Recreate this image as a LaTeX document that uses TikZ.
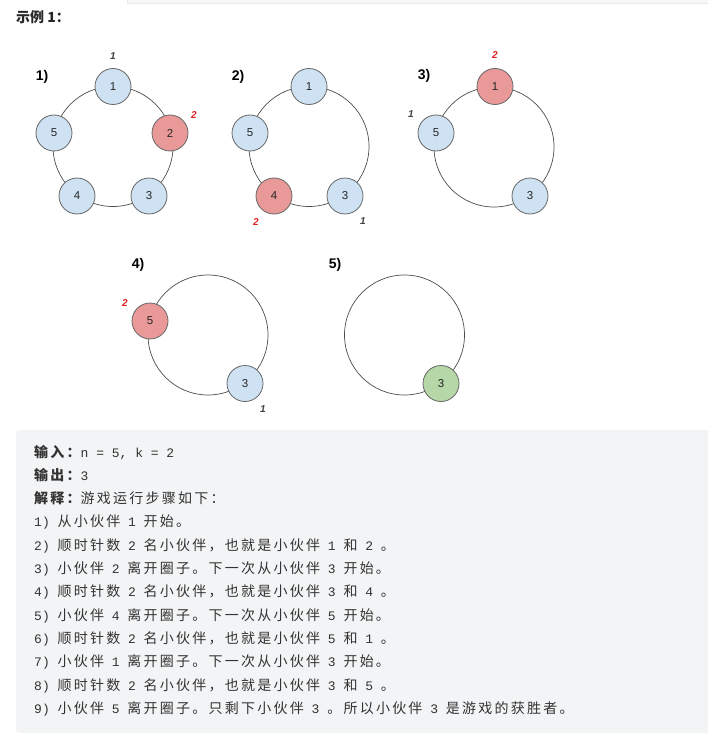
\documentclass[tikz,border=0pt]{standalone}
\usepackage{fontspec}
\setmainfont{Liberation Sans}
\newfontfamily\cjk{Noto Sans CJK SC}[LetterSpace=16]
\newfontfamily\cjktitle{Noto Sans CJK SC}
\newfontfamily\mono{Liberation Mono}
\newcommand\zhs[1]{{\cjk\fontsize{14}{14}\selectfont #1}}
\newcommand\zhb[1]{{\cjk\bfseries\fontsize{14}{14}\selectfont #1}}
\definecolor{nodeblue}{HTML}{CFE2F3}
\definecolor{nodered}{HTML}{EA9999}
\definecolor{nodegreen}{HTML}{B6D7A8}
\definecolor{edgegray}{HTML}{666666}
\definecolor{labred}{HTML}{E02020}
\definecolor{boxgray}{HTML}{F3F4F5}
\definecolor{txt}{HTML}{333333}
\begin{document}
\begin{tikzpicture}[x=1pt,y=-1pt,
  ring/.style={draw=black!70, line width=0.7pt},
  friend/.style={circle, draw=edgegray, line width=0.8pt, minimum size=36pt, inner sep=0pt,
    font=\fontsize{11.5}{11.5}\selectfont, text=black!85},
  fb/.style={friend, fill=nodeblue},
  fr/.style={friend, fill=nodered},
  fg/.style={friend, fill=nodegreen},
  steptitle/.style={font=\fontsize{14}{14}\selectfont\bfseries, text=black},
  cnt/.style={font=\fontsize{10}{10}\selectfont\bfseries\itshape, text=black!75},
  cntred/.style={font=\fontsize{10}{10}\selectfont\bfseries\itshape, text=labred},
  line/.style={anchor=base west, inner sep=0pt, text=txt, font=\mono\fontsize{13}{13}\selectfont}
]
\useasboundingbox (0,0) rectangle (707,738);
% top bar
\draw[draw=black!8, fill=black!3] (127,-2) rectangle (712,3.5);
% title
\node[anchor=west, inner sep=0pt, font=\cjktitle\bfseries\fontsize{14}{14}\selectfont, text=black!85] (title) at (16,17) {示例 1：};

% ---- diagram 1
\node[steptitle] (t1) at (42,77) {1)};
\draw[ring] (113,146.5) circle[radius=60pt];
\node[fb] (a1) at (113,86.5) {1};
\node[fr] (a2) at (170,133) {2};
\node[fb] (a3) at (149,196) {3};
\node[fb] (a4) at (77,196) {4};
\node[fb] (a5) at (54,133) {5};
\node[cnt] (c11) at (113,56) {1};
\node[cntred] (c12) at (194,115) {2};

% ---- diagram 2
\node[steptitle] (t2) at (238,77) {2)};
\draw[ring] (309,146.5) circle[radius=60pt];
\node[fb] (b1) at (309,86.5) {1};
\node[fb] (b3) at (345,196) {3};
\node[fr] (b4) at (274,196) {4};
\node[fb] (b5) at (250,133) {5};
\node[cntred] (c22) at (256,222) {2};
\node[cnt] (c21) at (363,221) {1};

% ---- diagram 3
\node[steptitle] (t3) at (424,76) {3)};
\draw[ring] (494,147) circle[radius=60pt];
\node[fr] (d1) at (495,86.5) {1};
\node[fb] (d5) at (436,133) {5};
\node[fb] (d3) at (530,196) {3};
\node[cntred] (c32) at (495,55) {2};
\node[cnt] (c31) at (411,114) {1};

% ---- diagram 4
\node[steptitle] (t4) at (138,265) {4)};
\draw[ring] (208,335) circle[radius=60pt];
\node[fr] (e5) at (150,321) {5};
\node[fb] (e3) at (245,383.5) {3};
\node[cntred] (c42) at (125,303) {2};
\node[cnt] (c41) at (263,409) {1};

% ---- diagram 5
\node[steptitle] (t5) at (335,265) {5)};
\draw[ring] (404.5,335) circle[radius=60pt];
\node[fg] (f3) at (441,383.5) {3};

% ---- explanation box
\fill[boxgray, rounded corners=3pt] (16,430) rectangle (714,733);
\node[line] (l1) at (34,457) {\zhb{输入：}n = 5, k = 2};
\node[line] (l2) at (34,480.3) {\zhb{输出：}3};
\node[line] (l3) at (34,503.6) {\zhb{解释：}\zhs{游戏运行步骤如下：}};
\node[line] (l4) at (34,526.9) {1) \zhs{从小伙伴} 1 \zhs{开始。}};
\node[line] (l5) at (34,550.2) {2) \zhs{顺时针数} 2 \zhs{名小伙伴，也就是小伙伴} 1 \zhs{和} 2 \zhs{。}};
\node[line] (l6) at (34,573.5) {3) \zhs{小伙伴} 2 \zhs{离开圈子。下一次从小伙伴} 3 \zhs{开始。}};
\node[line] (l7) at (34,596.8) {4) \zhs{顺时针数} 2 \zhs{名小伙伴，也就是小伙伴} 3 \zhs{和} 4 \zhs{。}};
\node[line] (l8) at (34,620.1) {5) \zhs{小伙伴} 4 \zhs{离开圈子。下一次从小伙伴} 5 \zhs{开始。}};
\node[line] (l9) at (34,643.4) {6) \zhs{顺时针数} 2 \zhs{名小伙伴，也就是小伙伴} 5 \zhs{和} 1 \zhs{。}};
\node[line] (l10) at (34,666.7) {7) \zhs{小伙伴} 1 \zhs{离开圈子。下一次从小伙伴} 3 \zhs{开始。}};
\node[line] (l11) at (34,690) {8) \zhs{顺时针数} 2 \zhs{名小伙伴，也就是小伙伴} 3 \zhs{和} 5 \zhs{。}};
\node[line] (l12) at (34,713.3) {9) \zhs{小伙伴} 5 \zhs{离开圈子。只剩下小伙伴} 3 \zhs{。所以小伙伴} 3 \zhs{是游戏的获胜者。}};
\end{tikzpicture}
\end{document}
